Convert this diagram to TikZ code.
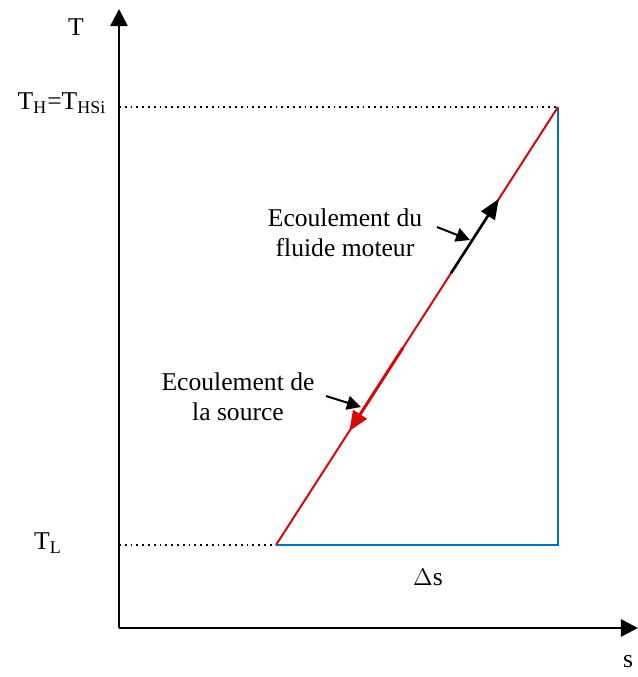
\documentclass[tikz,border=0pt]{standalone}
\usepackage{fontspec}
\setmainfont{Liberation Serif}
\usetikzlibrary{arrows.meta,calc}

\definecolor{lineblue}{RGB}{0,112,192}
\definecolor{linered}{RGB}{210,10,10}

\tikzset{
  lbl/.style={font=\fontsize{12.8}{15}\selectfont,align=center,inner sep=1pt},
  axis/.style={line width=1.3pt,-{Triangle[length=8.5pt,width=8.5pt]}},
  guide/.style={dotted,line width=0.9pt},
  pointer/.style={line width=1pt,-{Triangle[length=7pt,width=7pt]}}
}

\begin{document}
\begin{tikzpicture}[x=0.5pt,y=-0.5pt]
  \useasboundingbox (0,0) rectangle (638,677);

  % axes
  \coordinate (O) at (119,628);
  \coordinate (ytop) at (119,9);
  \coordinate (xend) at (638,628);
  \draw[axis] (O) -- (ytop);
  \draw[axis] (O) -- (xend);
  \node[lbl] (tlab) at (76,27) {T};
  \node[lbl] (slab) at (628,662) {s};

  % cycle corners
  \coordinate (A) at (276,545);
  \coordinate (B) at (558,107);
  \coordinate (C) at (558,545);
  \coordinate (Hy) at (119,107);
  \coordinate (Ly) at (119,545);

  % temperature levels
  \draw[guide] (Hy) -- (B);
  \draw[guide] (Ly) -- (A);
  \node[lbl] (th) at (62,103) {T\textsubscript{H}=T\textsubscript{HSi}};
  \node[lbl] (tl) at (48,543) {T\textsubscript{L}};

  % entropy change
  \draw[lineblue,line width=1.1pt] (A) -- (C) -- (B);
  \node[lbl] (ds) at (428,577) {$\Delta$s};

  % red line and flow directions
  \draw[linered,line width=1pt] (A) -- (B);
  \draw[line width=1.3pt,-{Triangle[length=10pt,width=8pt]}]
    ($(A)!0.62!(B)$) -- ($(A)!0.79!(B)$);
  \draw[linered,line width=1.5pt,-{Triangle[length=10pt,width=8pt]}]
    ($(A)!0.45!(B)$) -- ($(A)!0.26!(B)$);

  % labels
  \node[lbl] (fluide) at (345,233) {Ecoulement du\\fluide moteur};
  \node[lbl] (source) at (238,397) {Ecoulement de\\la source};
  \coordinate (pf) at (470,240);
  \coordinate (ps) at (361,407);
  \draw[pointer] (437,227) -- (pf);
  \draw[pointer] (326,396) -- (ps);
\end{tikzpicture}
\end{document}
